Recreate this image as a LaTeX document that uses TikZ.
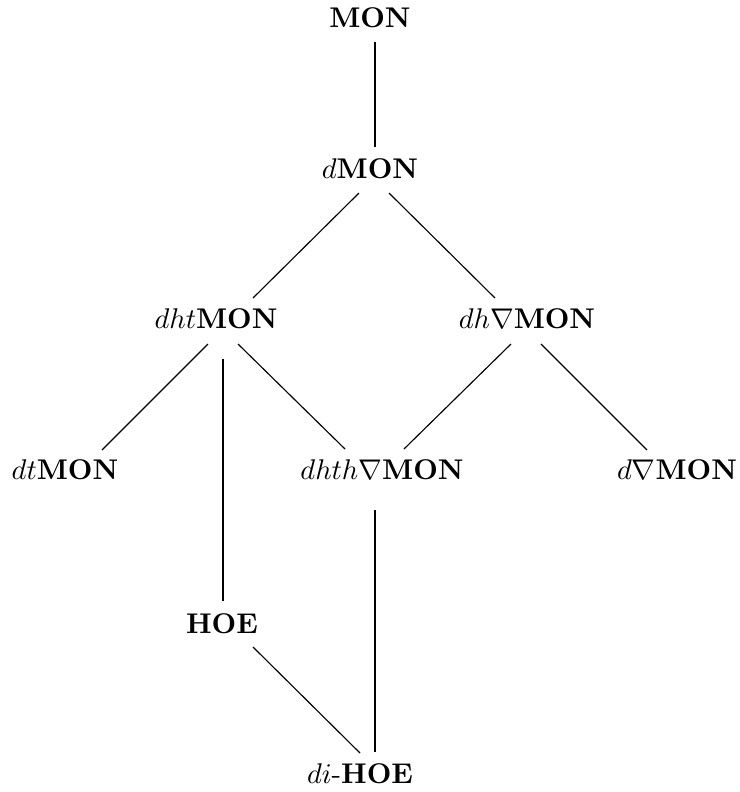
\documentclass[tikz,border=0pt]{standalone}
\usetikzlibrary{calc}
\begin{document}
\begin{tikzpicture}[x=0.35088pt,y=-0.35088pt,
  lbl/.style={anchor=base,inner sep=0pt},
  edge/.style={line width=0.4pt}]
\useasboundingbox (0,0) rectangle (740,792);
\node[lbl] (mon)   at (370,27)  {$\mathbf{MON}$};
\node[lbl] (dmon)  at (370,178) {$d\mathbf{MON}$};
\node[lbl] (dht)   at (216,328) {$dht\mathbf{MON}$};
\node[lbl] (dhn)   at (527,328) {$dh\nabla\mathbf{MON}$};
\node[lbl] (dt)    at (65,479)  {$dt\mathbf{MON}$};
\node[lbl] (dhth)  at (382,479) {$dhth\nabla\mathbf{MON}$};
\node[lbl] (dn)    at (677,479) {$d\nabla\mathbf{MON}$};
\node[lbl] (hoe)   at (222,633) {$\mathbf{HOE}$};
\node[lbl] (dihoe) at (360,783) {$di$-$\mathbf{HOE}$};

\draw[edge] ($(mon.base)+(5,15)$)    -- ($(dmon.base)+(5,-31)$);
\draw[edge] ($(dmon.base)+(-11,15)$) -- ($(dht.base)+(37,-30)$);
\draw[edge] ($(dmon.base)+(19,15)$)  -- ($(dhn.base)+(-32,-30)$);
\draw[edge] ($(dht.base)+(-8,16)$)   -- ($(dt.base)+(37,-29)$);
\draw[edge] ($(dht.base)+(7,31)$)    -- ($(hoe.base)+(1,-32)$);
\draw[edge] ($(dht.base)+(22,16)$)   -- ($(dhth.base)+(-37,-30)$);
\draw[edge] ($(dhn.base)+(-16,16)$)  -- ($(dhth.base)+(22,-30)$);
\draw[edge] ($(dhn.base)+(14,16)$)   -- ($(dn.base)+(-30,-29)$);
\draw[edge] ($(dhth.base)+(-7,31)$)  -- ($(dihoe.base)+(15,-31)$);
\draw[edge] ($(hoe.base)+(31,14)$)   -- ($(dihoe.base)+(0,-30)$);
\end{tikzpicture}
\end{document}
